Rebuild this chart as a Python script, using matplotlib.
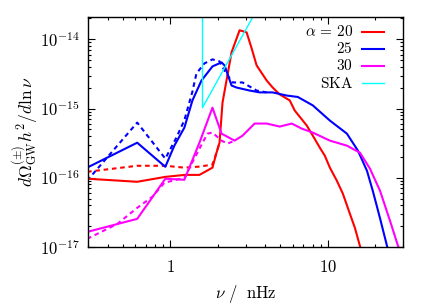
import matplotlib
matplotlib.use("Agg")
import matplotlib.pyplot as plt
from matplotlib.ticker import LogLocator, FixedLocator, FuncFormatter, NullFormatter
from matplotlib.lines import Line2D
import numpy as np

plt.rcParams['mathtext.fontset'] = 'cm'
plt.rcParams['font.family'] = 'serif'
plt.rcParams['font.serif'] = ['DejaVu Serif']

# alpha = 20 (solid / dashed)
r_x = [0.296, 0.616, 0.929, 1.228, 1.530, 1.851, 1.963, 2.052, 2.144, 2.447, 2.751,
       3.049, 3.281, 3.529, 4.088, 4.464, 4.946, 5.728, 6.163, 7.347, 8.026, 8.892,
       9.570, 10.30, 11.41, 12.46, 13.81, 14.86, 15.99, 16.6]
r_y = [9.7e-17, 8.75e-17, 1.03e-16, 1.10e-16, 1.10e-16, 1.40e-16, 2.30e-16, 3.21e-16,
       1.22e-15, 6.48e-15, 1.35e-14, 1.26e-14, 7.41e-15, 4.20e-15, 2.54e-15, 2.01e-15,
       1.60e-15, 1.31e-15, 9.35e-16, 5.68e-16, 4.06e-16, 2.72e-16, 2.08e-16, 1.40e-16,
       9.05e-17, 5.87e-17, 3.01e-17, 1.88e-17, 1.03e-17, 8.0e-18]
rd_x = [0.296, 0.616, 0.929, 1.228, 1.530, 1.851, 1.963, 2.052]
rd_y = [1.22e-16, 1.49e-16, 1.49e-16, 1.40e-16, 1.45e-16, 1.55e-16, 2.30e-16, 3.21e-16]

# alpha = 25
b_x = [0.296, 0.616, 0.929, 1.060, 1.228, 1.381, 1.576, 1.851, 2.113, 2.208, 2.447,
       2.633, 3.186, 3.689, 4.464, 5.482, 6.441, 8.026, 10.30, 13.21, 15.53, 17.72,
       19.35, 21.44, 23.76, 24.6]
b_y = [1.40e-16, 3.21e-16, 1.44e-16, 2.91e-16, 5.31e-16, 1.31e-15, 2.54e-15, 4.06e-15,
       4.64e-15, 4.20e-15, 2.15e-15, 2.01e-15, 1.82e-15, 1.71e-15, 1.71e-15, 1.54e-15,
       1.47e-15, 1.11e-15, 6.70e-16, 4.34e-16, 2.46e-16, 1.26e-16, 6.30e-17, 2.60e-17,
       1.03e-17, 8.0e-18]
bd_x = [0.296, 0.616, 0.929, 1.092, 1.228, 1.381, 1.464, 1.646, 1.851, 2.052, 2.240,
        2.483, 2.875, 3.529, 4.088]
bd_y = [9.05e-17, 6.27e-16, 1.89e-16, 3.80e-16, 6.80e-16, 1.76e-15, 3.21e-15, 4.49e-15,
        5.13e-15, 4.80e-15, 3.32e-15, 2.38e-15, 2.38e-15, 1.82e-15, 1.71e-15]

# alpha = 30
m_x = [0.296, 0.616, 0.929, 1.228, 1.530, 1.851, 2.113, 2.556, 2.875, 3.428, 4.088,
       4.946, 5.898, 6.830, 8.026, 10.30, 13.21, 15.99, 18.52, 21.44, 24.83, 27.92, 29.5]
m_y = [1.65e-17, 2.55e-17, 9.68e-17, 9.36e-17, 3.21e-16, 1.03e-15, 4.34e-16, 3.44e-16,
       4.06e-16, 6.07e-16, 6.07e-16, 5.49e-16, 6.07e-16, 5.13e-16, 4.49e-16, 3.44e-16,
       2.91e-16, 2.30e-16, 1.35e-16, 6.49e-17, 2.38e-17, 1.03e-17, 8.0e-18]
md_x = [0.296, 0.460, 0.616, 0.768, 0.916, 1.228, 1.530, 1.720, 1.851, 2.113, 2.307, 2.556]
md_y = [1.31e-17, 2.15e-17, 3.68e-17, 5.31e-17, 8.47e-17, 1.00e-16, 2.63e-16, 4.34e-16,
        4.49e-16, 3.44e-16, 3.11e-16, 3.44e-16]

# SKA sensitivity
ska_x = [1.6, 1.6, 4.0]
ska_y = [1.0e-13, 1.03e-15, 4.4e-14]

labels = [r'$\alpha\,=\,20$', r'$25$', r'$30$', r'$\mathrm{SKA}$']
colors = ['#ff0000', '#0000ff', '#ff00ff', '#00ffff']

x_major = [1, 10]
y_major = [1e-17, 1e-16, 1e-15, 1e-14]

fig = plt.figure(figsize=(4.36, 3.05), dpi=100)
ax = fig.add_axes([88/436, 58/305, 315/436, 230/305])

lw = 1.5
dash = (0, (2.2, 1.8))
ax.plot(rd_x, rd_y, color=colors[0], lw=lw, linestyle=dash)
ax.plot(bd_x, bd_y, color=colors[1], lw=lw, linestyle=dash)
ax.plot(md_x, md_y, color=colors[2], lw=lw, linestyle=dash)
ax.plot(r_x, r_y, color=colors[0], lw=lw)
ax.plot(b_x, b_y, color=colors[1], lw=lw)
ax.plot(m_x, m_y, color=colors[2], lw=lw)
ax.plot(ska_x, ska_y, color=colors[3], lw=1.0)

ax.set_xscale('log')
ax.set_yscale('log')
ax.set_xlim(0.3, 30)
ax.set_ylim(1e-17, 2.1e-14)

ax.xaxis.set_major_locator(FixedLocator(x_major))
ax.xaxis.set_minor_locator(LogLocator(base=10, subs=np.arange(2, 10)))
ax.xaxis.set_major_formatter(FuncFormatter(lambda v, p: r'$%d$' % round(v)))
ax.xaxis.set_minor_formatter(NullFormatter())
ax.yaxis.set_major_locator(FixedLocator(y_major))
ax.yaxis.set_minor_locator(LogLocator(base=10, subs=np.arange(2, 10), numticks=20))
ax.yaxis.set_major_formatter(FuncFormatter(lambda v, p: r'$10^{%d}$' % round(np.log10(v))))
ax.yaxis.set_minor_formatter(NullFormatter())

ax.tick_params(which='both', direction='in', top=True, right=True, labelsize=12, width=0.8)
ax.tick_params(which='major', length=5)
ax.tick_params(which='minor', length=2.5)
ax.tick_params(axis='x', which='major', pad=9)
ax.tick_params(axis='y', which='major', pad=6)
for s in ax.spines.values():
    s.set_linewidth(1.0)

ax.set_xlabel(r'$\nu\ /\ \ \mathrm{nHz}$', fontsize=12, labelpad=4.5)
ax.set_ylabel(r'$d\Omega^{(\pm)}_{\mathrm{GW}}h^2/d\ln\nu$', fontsize=12.5, labelpad=0)

# legend (text right-aligned, sample on the right)
rows = [0.935, 0.861, 0.787, 0.713]
for lab, c, yy in zip(labels, colors, rows):
    ax.text(0.841, yy, lab, transform=ax.transAxes, ha='right', va='center', fontsize=11)
    ax.add_line(Line2D([0.870, 0.940], [yy, yy], transform=ax.transAxes, color=c,
                       lw=(1.5 if c != '#00ffff' else 1.0)))

fig.savefig('out.png', dpi=100)
